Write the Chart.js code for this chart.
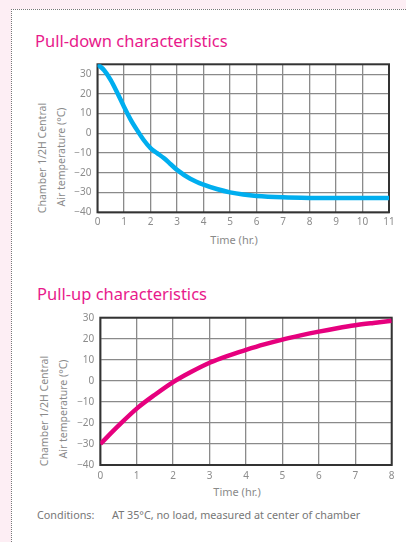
<!DOCTYPE html>
<html>
<head>
<meta charset="utf-8">
<script src="https://cdn.jsdelivr.net/npm/chart.js@4.4.1/dist/chart.umd.min.js"></script>
<style>
	html, body { margin: 0; padding: 0; }
	body {
		width: 406px; height: 542px; overflow: hidden; position: relative;
		background: #fdeef4;
		font-family: "Noto Sans", sans-serif;
	}
	.panel {
		position: absolute; left: 11px; top: 9px; width: 420px; height: 560px;
		background: #fff;
		border-left: 1px dotted #777; border-top: 1px dotted #777;
	}
	.title { position: absolute; color: #e8198b; font-size: 16.5px; line-height: 20px; white-space: nowrap; }
	.axis-title { position: absolute; color: #8a8a8a; font-size: 10.5px; line-height: 12px; white-space: nowrap; transform: translate(-50%, -50%); }
	.axis-title.rot { transform: translate(-50%, -50%) rotate(-90deg); }
	.cond { position: absolute; color: #777; font-size: 10.8px; line-height: 12px; white-space: nowrap; }
	canvas { position: absolute; left: 0; }
</style>
</head>
<body>
<div class="panel"></div>

<div class="title" style="left:35px; top:31px;">Pull-down characteristics</div>
<div class="axis-title rot" style="left:42px; top:158px;">Chamber 1/2H Central</div>
<div class="axis-title rot" style="left:61px; top:157px;">Air temperature (°C)</div>
<div class="axis-title" style="left:234px; top:240px; font-size:11px;">Time (hr.)</div>
<div style="position:absolute; left:0; top:0; width:406px; height:240px;"><canvas id="downChart"></canvas></div>

<div class="title" style="left:37px; top:284px;">Pull-up characteristics</div>
<div class="axis-title rot" style="left:44px; top:411px;">Chamber 1/2H Central</div>
<div class="axis-title rot" style="left:63px; top:409px;">Air temperature (°C)</div>
<div class="axis-title" style="left:237px; top:492px; font-size:11px;">Time (hr.)</div>
<div style="position:absolute; left:0; top:260px; width:406px; height:230px;"><canvas id="upChart"></canvas></div>

<div class="cond" style="left:37px; top:509px;">Conditions:</div>
<div class="cond" style="left:112px; top:509px;">AT 35°C, no load, measured at center of chamber</div>

<script>
// 풀다운 (냉각) 곡선 데이터
const downHours = [0, 0.25, 0.5, 0.75, 1, 1.25, 1.5, 1.75, 2, 2.25, 2.5, 2.75, 3, 3.5, 4, 4.5, 5, 5.5, 6, 7, 8, 9, 10, 11];
const downTemps = [35, 32, 27, 20.5, 13.5, 7, 1.5, -3.5, -7.5, -10, -12.5, -15.5, -18.5, -23, -26, -28.2, -29.9, -31, -31.7, -32.4, -32.7, -32.8, -32.8, -32.8];

// 풀업 (가열) 곡선 데이터
const upHours = [0, 0.5, 1, 1.5, 2, 2.5, 3, 3.5, 4, 4.5, 5, 5.5, 6, 6.5, 7, 7.5, 8];
const upTemps = [-30, -21.3, -13.2, -6.6, -0.6, 4.3, 8.6, 11.9, 14.7, 17.3, 19.6, 21.6, 23.4, 25, 26.4, 27.5, 28.5];

// 축 눈금
const downXTicks = [0, 1, 2, 3, 4, 5, 6, 7, 8, 9, 10, 11];
const upXTicks = [0, 1, 2, 3, 4, 5, 6, 7, 8];
const yTicks = [-40, -30, -20, -10, 0, 10, 20, 30];

document.addEventListener('DOMContentLoaded', function() {
	initDownChart();
	initUpChart();
});

// 플롯 영역 테두리 (선 아래에 그림)
const frame = {
	id: 'frame',
	beforeDatasetsDraw(chart) {
		const a = chart.chartArea;
		const ctx = chart.ctx;
		ctx.save();
		ctx.strokeStyle = '#333';
		ctx.lineWidth = 2;
		ctx.strokeRect(a.left, a.top, a.right - a.left, a.bottom - a.top);
		ctx.restore();
	}
};

function tickFont() {
	return { family: '"Noto Sans", sans-serif', size: 10 };
}

function buildOptions(xMax, xTicks, yMax, pad, yWidth, xHeight, xPad) {
	return {
		responsive: true,
		maintainAspectRatio: false,
		animation: false,
		layout: { padding: pad },
		plugins: { legend: { display: false }, tooltip: { enabled: false } },
		scales: {
			x: {
				type: 'linear',
				min: 0,
				max: xMax,
				afterBuildTicks: function(scale) {
					scale.ticks = xTicks.map(v => ({ value: v }));
				},
				afterFit: function(scale) { scale.height = xHeight; },
				border: { display: false },
				grid: { color: '#8a8a8a', lineWidth: 1.3, drawTicks: false },
				ticks: { color: '#8c8c8c', font: tickFont(), padding: xPad, maxRotation: 0 }
			},
			y: {
				min: -40,
				max: yMax,
				afterBuildTicks: function(scale) {
					scale.ticks = yTicks.map(v => ({ value: v }));
				},
				afterFit: function(scale) { scale.width = yWidth; },
				border: { display: false },
				grid: { color: '#8a8a8a', lineWidth: 1.3, drawTicks: false },
				ticks: {
					color: '#8c8c8c',
					font: tickFont(),
					padding: 6,
					callback: function(value) {
						return String(value).replace('-', '\u2212');
					}
				}
			}
		}
	};
}

/**
 * Pull-down 차트
 */
function initDownChart() {
	const ctx = document.getElementById('downChart').getContext('2d');
	new Chart(ctx, {
		type: 'line',
		data: {
			datasets: [{
				data: downHours.map((h, i) => ({ x: h, y: downTemps[i] })),
				borderColor: '#00aeef',
				borderWidth: 4.5,
				pointRadius: 0,
				cubicInterpolationMode: 'monotone',
				fill: false
			}]
		},
		options: buildOptions(11, downXTicks, 35, { left: 30, right: 17, top: 64.3, bottom: 0 }, 67.5, 27.7, 4),
		plugins: [frame]
	});
}

/**
 * Pull-up 차트
 */
function initUpChart() {
	const ctx = document.getElementById('upChart').getContext('2d');
	new Chart(ctx, {
		type: 'line',
		data: {
			datasets: [{
				data: upHours.map((h, i) => ({ x: h, y: upTemps[i] })),
				borderColor: '#e6007e',
				borderWidth: 4.5,
				pointRadius: 0,
				cubicInterpolationMode: 'monotone',
				fill: false
			}]
		},
		options: buildOptions(8, upXTicks, 30, { left: 30, right: 14.3, top: 57.7, bottom: 0 }, 70.3, 25, 5),
		plugins: [frame]
	});
}
</script>
</body>
</html>
